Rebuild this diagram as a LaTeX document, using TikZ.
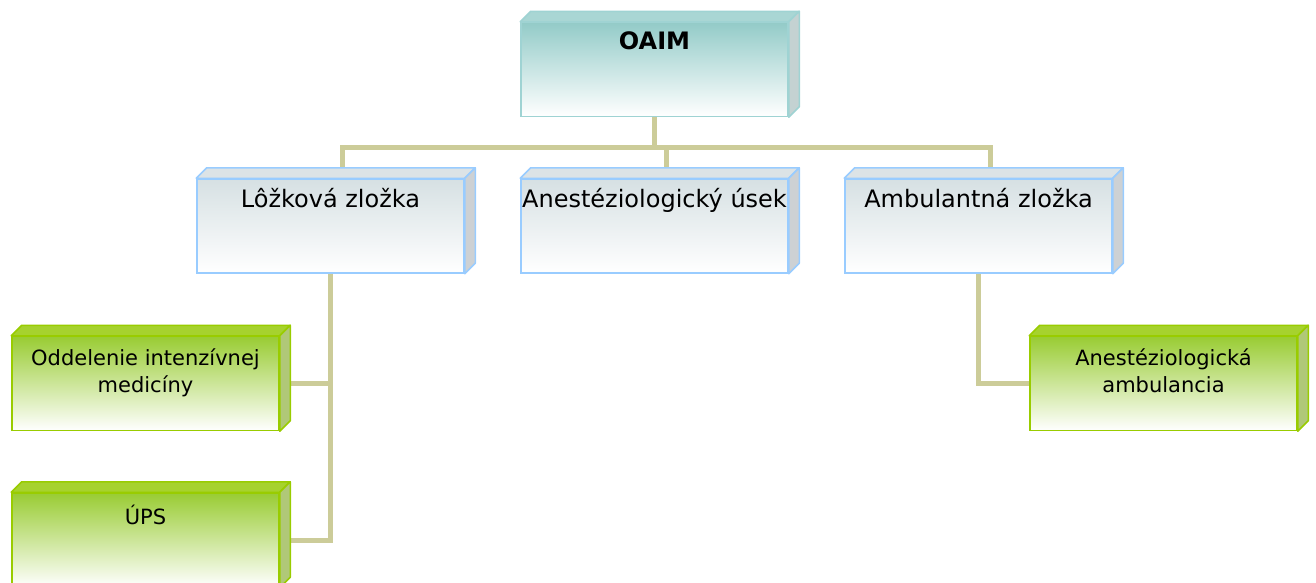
\documentclass[tikz,border=0pt]{standalone}
\usepackage{fontspec}
\setmainfont{DejaVu Sans}
\usetikzlibrary{positioning}

\definecolor{tealtop}{HTML}{93CBC8}
\definecolor{tealline}{HTML}{9FD3D3}
\definecolor{tealroof}{HTML}{A9D6D4}
\definecolor{tealside}{HTML}{C4D2D2}
\definecolor{bluetop}{HTML}{D6E0E3}
\definecolor{blueline}{HTML}{99CCFF}
\definecolor{blueroof}{HTML}{DCE3E6}
\definecolor{blueside}{HTML}{CDD1D4}
\definecolor{greentop}{HTML}{99CC33}
\definecolor{greenline}{HTML}{99CC00}
\definecolor{greenroof}{HTML}{A6D22E}
\definecolor{greenside}{HTML}{B0C878}
\definecolor{linkcol}{HTML}{CCCC99}

% top and right faces of a box node
\newcommand{\boxdepth}[4]{%
  \filldraw[draw=#4,fill=#2,line width=1.5pt,line join=round] (#1.north west) -- ++(10.5,10.5) -- ([shift={(10.5,10.5)}]#1.north east) -- (#1.north east) -- cycle;
  \filldraw[draw=#4,fill=#3,line width=1.5pt,line join=round] (#1.north east) -- ++(10.5,10.5) -- ([shift={(10.5,10.5)}]#1.south east) -- (#1.south east) -- cycle;
}

\begin{document}
\begin{tikzpicture}[x=1pt,y=1pt,
    box/.style={rectangle,minimum width=267pt,minimum height=94pt,inner sep=0pt,line width=1.5pt},
    head/.style={box,draw=tealline,top color=tealtop,bottom color=white},
    unit/.style={box,draw=blueline,top color=bluetop,bottom color=white},
    sub/.style={box,draw=greenline,top color=greentop,bottom color=white},
    caption/.style={anchor=north,inner sep=0pt,yshift=-10pt,align=center,font=\fontsize{24}{29}\selectfont},
    smallcaption/.style={caption,yshift=-3pt,font=\fontsize{21}{27}\selectfont},
    link/.style={draw=linkcol,line width=5pt}]
    \useasboundingbox (0,0) rectangle (1316,-582);

    \node[head,label={[caption,font=\fontsize{24}{29}\selectfont\bfseries]north:OAIM}] (oaim) at (654.5,-69.5) {};

    \node[unit,label={[caption]north:Lôžková zložka}] (lozkova) at (330.5,-226) {};
    \node[unit,label={[caption]north:Anestéziologický úsek}] (anest) at (654.5,-226) {};
    \node[unit,label={[caption]north:Ambulantná zložka}] (ambul) at (978.5,-226) {};

    \node[sub,label={[smallcaption]north:{Oddelenie intenzívnej\\medicíny}}] (oim) at (145.5,-383.5) {};
    \node[sub,label={[smallcaption]north:ÚPS}] (ups) at (145.5,-540) {};
    \node[sub,label={[smallcaption]north:{Anestéziologická\\ambulancia}}] (ambamb) at (1163.5,-383.5) {};

    \coordinate (bus) at ([yshift=-30pt]oaim.south);
    \draw[link] (oaim.south) -- (bus);
    \draw[link] ([xshift=11.5pt]lozkova.north) |- (bus) -| ([xshift=11.5pt]ambul.north);
    \draw[link] ([xshift=11.5pt]anest.north) -- ([xshift=11.5pt]anest.north |- bus);
    \draw[link] (lozkova.south) |- (oim.east);
    \draw[link] (lozkova.south) |- (ups.east);
    \draw[link] (ambul.south) |- (ambamb.west);

    \boxdepth{oaim}{tealroof}{tealside}{tealline}
    \boxdepth{lozkova}{blueroof}{blueside}{blueline}
    \boxdepth{anest}{blueroof}{blueside}{blueline}
    \boxdepth{ambul}{blueroof}{blueside}{blueline}
    \boxdepth{oim}{greenroof}{greenside}{greenline}
    \boxdepth{ups}{greenroof}{greenside}{greenline}
    \boxdepth{ambamb}{greenroof}{greenside}{greenline}
\end{tikzpicture}
\end{document}
